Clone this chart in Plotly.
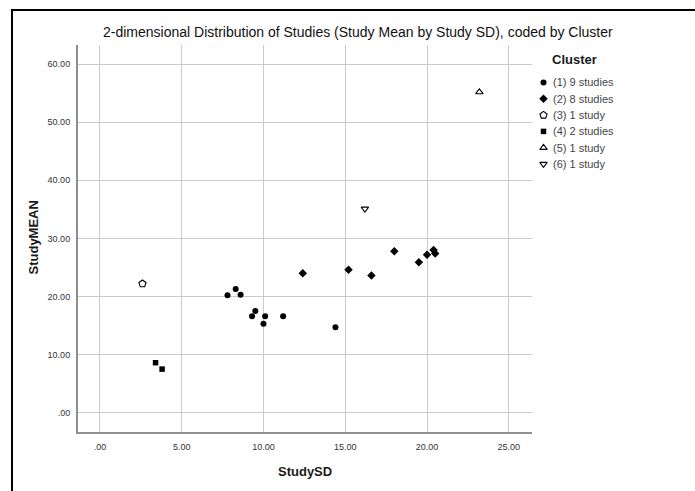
import plotly.graph_objects as go

W, H = 695, 491

# ---- data ----
c1_sd = [7.8, 8.3, 8.6, 9.3, 9.5, 10.1, 10.0, 11.2, 14.4]
c1_mean = [20.2, 21.3, 20.3, 16.6, 17.5, 16.6, 15.3, 16.6, 14.7]
c2_sd = [12.4, 15.2, 16.6, 18.0, 19.5, 20.0, 20.4, 20.5]
c2_mean = [24.0, 24.6, 23.6, 27.8, 25.9, 27.2, 28.0, 27.4]
c3_sd = [2.6]
c3_mean = [22.2]
c4_sd = [3.4, 3.8]
c4_mean = [8.6, 7.5]
c5_sd = [23.2]
c5_mean = [55.2]
c6_sd = [16.2]
c6_mean = [35.1]

legend_labels = ["(1) 9 studies", "(2) 8 studies", "(3) 1 study",
                 "(4) 2 studies", "(5) 1 study", "(6) 1 study"]

x_tickvals = [0, 5, 10, 15, 20, 25]
x_ticktext = [".00", "5.00", "10.00", "15.00", "20.00", "25.00"]
y_tickvals = [0, 10, 20, 30, 40, 50, 60]
y_ticktext = [".00", "10.00", "20.00", "30.00", "40.00", "50.00", "60.00"]

# ---- styles ----
styles = [
    dict(symbol="circle", size=6, color="black", line=dict(width=0)),
    dict(symbol="diamond", size=6.5, color="black", line=dict(width=0)),
    dict(symbol="pentagon-open", size=7.5, color="black", line=dict(width=1.1)),
    dict(symbol="square", size=5.5, color="black", line=dict(width=0)),
    dict(symbol="triangle-up-open", size=6.5, color="black", line=dict(width=1.1)),
    dict(symbol="triangle-down-open", size=6.5, color="black", line=dict(width=1.1)),
]

series = [(c1_sd, c1_mean), (c2_sd, c2_mean), (c3_sd, c3_mean),
          (c4_sd, c4_mean), (c5_sd, c5_mean), (c6_sd, c6_mean)]

# plot area in pixels
PL, PR, PT, PB = 77.7, 531.7, 45.0, 432.3

fig = go.Figure()
for (xs, ys), st, lab in zip(series, styles, legend_labels):
    fig.add_trace(go.Scatter(x=xs, y=ys, mode="markers", marker=st,
                             name=lab, showlegend=False, cliponaxis=False))

# custom compact legend (pixel-space overlay axis)
LEG_X, LEG_Y0, LEG_DY = 543.5, 82.5, 16.3
leg_y = [LEG_Y0 + i * LEG_DY for i in range(len(legend_labels))]
for i, (st, lab) in enumerate(zip(styles, legend_labels)):
    fig.add_trace(go.Scatter(x=[LEG_X], y=[leg_y[i]], mode="markers",
                             marker=st, xaxis="x2", yaxis="y2",
                             showlegend=False, hoverinfo="skip", cliponaxis=False))

font_main = "Liberation Sans, Arial, sans-serif"
annotations = [
    dict(text="2-dimensional Distribution of Studies (Study Mean by Study SD), coded by Cluster",
         x=358 / W, y=1 - 32 / H, xref="paper", yref="paper", showarrow=False,
         xanchor="center", yanchor="middle",
         font=dict(family=font_main, size=14, color="#111111")),
    dict(text="<b>StudySD</b>", x=305 / W, y=1 - 471.5 / H, xref="paper", yref="paper",
         showarrow=False, xanchor="center", yanchor="middle",
         font=dict(family=font_main, size=13, color="#1a1a1a")),
    dict(text="<b>StudyMEAN</b>", x=33.5 / W, y=1 - 238 / H, xref="paper", yref="paper",
         showarrow=False, xanchor="center", yanchor="middle", textangle=-90,
         font=dict(family=font_main, size=13, color="#1a1a1a")),
    dict(text="<b>Cluster</b>", x=574 / W, y=1 - 59.5 / H, xref="paper", yref="paper",
         showarrow=False, xanchor="center", yanchor="middle",
         font=dict(family=font_main, size=13, color="#1a1a1a")),
]
for i, lab in enumerate(legend_labels):
    annotations.append(dict(text=lab, x=550.5 / W, y=1 - leg_y[i] / H,
                            xref="paper", yref="paper", showarrow=False,
                            xanchor="left", yanchor="middle",
                            font=dict(family=font_main, size=11, color="#444444")))

grid_col = "#cacaca"
axis_col = "#8f8f8f"

fig.update_layout(
    width=W, height=H,
    margin=dict(l=0, r=0, t=0, b=0),
    paper_bgcolor="white", plot_bgcolor="rgba(0,0,0,0)",
    showlegend=False,
    xaxis=dict(domain=[PL / W, PR / W], range=[-1.36, 26.4],
               tickvals=x_tickvals, ticktext=x_ticktext,
               showgrid=True, gridcolor=grid_col, gridwidth=1,
               zeroline=False, showline=True, linecolor=axis_col, linewidth=1.5,
               ticks="", ticklabelstandoff=5,
               tickfont=dict(family=font_main, size=9, color="#333333"),
               fixedrange=True, anchor="y"),
    yaxis=dict(domain=[1 - PB / H, 1 - PT / H], range=[-3.38, 63.3],
               tickvals=y_tickvals, ticktext=y_ticktext,
               showgrid=True, gridcolor=grid_col, gridwidth=1,
               zeroline=False, showline=True, linecolor=axis_col, linewidth=1.5,
               ticks="", ticklabelstandoff=4,
               tickfont=dict(family=font_main, size=9, color="#333333"),
               fixedrange=True, anchor="x"),
    xaxis2=dict(domain=[0, 1], range=[0, W], visible=False, anchor="y2",
                fixedrange=True),
    yaxis2=dict(domain=[0, 1], range=[H, 0], visible=False, anchor="x2",
                fixedrange=True),
    annotations=annotations,
    shapes=[dict(type="rect", xref="paper", yref="paper",
                 x0=12 / W, x1=1.05, y0=-0.05, y1=1 - 10 / H,
                 line=dict(color="black", width=2), layer="above")],
)

fig.write_html("out.html",
               config={"displayModeBar": False},
               post_script="document.body.style.margin='0';document.body.style.overflow='hidden';")
